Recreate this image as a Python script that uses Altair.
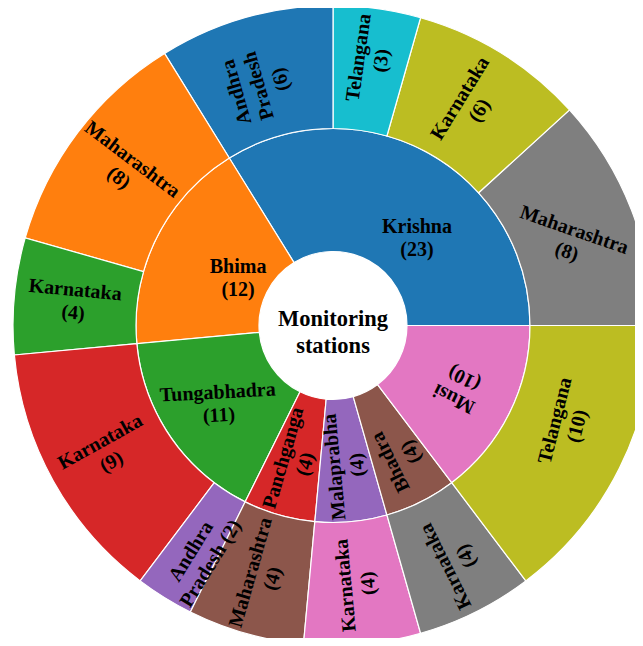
import math
import altair as alt
import pandas as pd

# ---------------- data ----------------
ROOT_LABEL = "Monitoring stations"
rivers = ["Krishna", "Bhima", "Tungabhadra", "Panchganga", "Malaprabha", "Bhadra", "Musi"]
river_counts = [23, 12, 11, 4, 4, 4, 10]
state_parents = ["Krishna", "Krishna", "Krishna", "Krishna", "Bhima", "Bhima",
                 "Tungabhadra", "Tungabhadra", "Panchganga", "Malaprabha", "Bhadra", "Musi"]
states = ["Maharashtra", "Karnataka", "Telangana", "Andhra Pradesh", "Maharashtra", "Karnataka",
          "Karnataka", "Andhra Pradesh", "Maharashtra", "Karnataka", "Karnataka", "Telangana"]
state_counts = [8, 6, 3, 6, 8, 4, 9, 2, 4, 4, 4, 10]

# ---------------- style ----------------
CAT10 = ["#1f77b4", "#ff7f0e", "#2ca02c", "#d62728", "#9467bd",
         "#8c564b", "#e377c2", "#7f7f7f", "#bcbd22", "#17becf"]
FONT = "Liberation Serif"
W, H = 627, 630
CX, CY = 325, 317.5
R_HOLE, R_MID, R_OUT = 74, 197, 320
R_LABEL_INNER, R_LABEL_OUTER = 141, 260
FS, LH = 20, 23
# horizontal inner labels: (theta nudge in value units, radius px, rotation deg)
H_LABELS = {"Krishna": (-2.8, 121, 0), "Bhima": (0, 106, 0), "Tungabhadra": (0, 139, -3)}
# small placement nudges for rotated labels: (theta nudge in value units, radius px)
LABEL_NUDGE = {
    ("Krishna", "Maharashtra"): (-0.3, 252),
    ("Krishna", "Telangana"): (0, 269),
    ("Krishna", "Andhra Pradesh"): (0.25, 251),
    ("Tungabhadra", "Andhra Pradesh"): (0.4, 267),
    ("Bhadra", "Karnataka"): (0.2, 266),
    ("Musi", "Telangana"): (0.7, 253),
    ("", "Bhadra"): (0.15, 148),
}
ROT_OVERRIDE = {("Krishna", "Maharashtra"): 19, ("Musi", "Telangana"): -76}
TEXT_LAYOUT = {("Krishna", "Andhra Pradesh"): "Andhra\nPradesh\n({n})",
               ("Tungabhadra", "Andhra Pradesh"): "Andhra\nPradesh ({n})"}

total = sum(river_counts)

rows = []
cum = 0
for i, (name, n) in enumerate(zip(rivers, river_counts)):
    rows.append(dict(ring="inner", parent="", name=name, value=n, start=cum, end=cum + n, seq=i))
    cum += n
cum = 0
for j, (par, name, n) in enumerate(zip(state_parents, states, state_counts)):
    rows.append(dict(ring="outer", parent=par, name=name, value=n, start=cum, end=cum + n,
                     seq=len(rivers) + j))
    cum += n
df = pd.DataFrame(rows)


def label_props(r):
    mid = (r["start"] + r["end"]) / 2
    deg = mid / total * 360
    if r["ring"] == "inner" and r["name"] in H_LABELS:
        dn, rad, rot = H_LABELS[r["name"]]
        return mid + dn, rad, rot % 360
    rot = -deg if deg < 110 else 180 - deg
    key = (r["parent"], r["name"])
    rot = ROT_OVERRIDE.get(key, rot)
    rad = R_LABEL_INNER if r["ring"] == "inner" else R_LABEL_OUTER
    dn, rad = LABEL_NUDGE.get(key, (0, rad))
    return mid + dn, rad, rot % 360


props = df.apply(label_props, axis=1, result_type="expand")
df["ltheta"], df["lr"], df["rot"] = props[0], props[1], props[2]
df["label"] = [
    TEXT_LAYOUT.get((p, nm), "{name}\n({n})").format(name=nm, n=v)
    for p, nm, v in zip(df["parent"], df["name"], df["value"])
]
df["nlines"] = df["label"].str.count("\n") + 1

theta_scale = alt.Scale(domain=[0, total], range=[math.pi / 2, math.pi / 2 - 2 * math.pi])
color = alt.Color("seq:O", scale=alt.Scale(domain=list(range(len(df))), range=CAT10), legend=None)

base = alt.Chart(df)


def ring_layer(ring, r_in, r_out):
    return base.transform_filter(alt.datum.ring == ring).mark_arc(
        stroke="white", strokeWidth=1.2
    ).encode(
        theta=alt.Theta("start:Q", scale=theta_scale, stack=False),
        theta2="end:Q",
        radius=alt.value(r_out),
        radius2=alt.value(r_in),
        x=alt.value(CX), y=alt.value(CY),
        color=color,
    )


def label_layer(nl):
    return base.transform_filter(alt.datum.nlines == nl).mark_text(
        font=FONT, fontWeight="bold", fontSize=FS, lineHeight=LH, lineBreak="\n",
        align="center", baseline="middle", color="black", dy=-(nl - 1) * LH / 2
    ).encode(
        theta=alt.Theta("ltheta:Q", scale=theta_scale, stack=False),
        radius=alt.Radius("lr:Q", scale=None),
        angle=alt.Angle("rot:Q", scale=None),
        text="label:N",
        x=alt.value(CX), y=alt.value(CY),
    )


center = alt.Chart(pd.DataFrame({"label": [ROOT_LABEL.replace(" ", "\n")]})).mark_text(
    font=FONT, fontWeight="bold", fontSize=22.5, lineHeight=27, lineBreak="\n",
    align="center", baseline="middle", color="black", dy=-13.5
).encode(
    text="label:N",
    x=alt.value(CX), y=alt.value(CY + 6.5),
)

chart = alt.layer(
    ring_layer("inner", R_HOLE, R_MID),
    ring_layer("outer", R_MID, R_OUT),
    label_layer(2),
    label_layer(3),
    center,
).properties(
    width=W, height=H, padding=0, autosize="none"
).configure_view(strokeWidth=0)

chart.save("out.html", embed_options={"renderer": "svg", "actions": False})
